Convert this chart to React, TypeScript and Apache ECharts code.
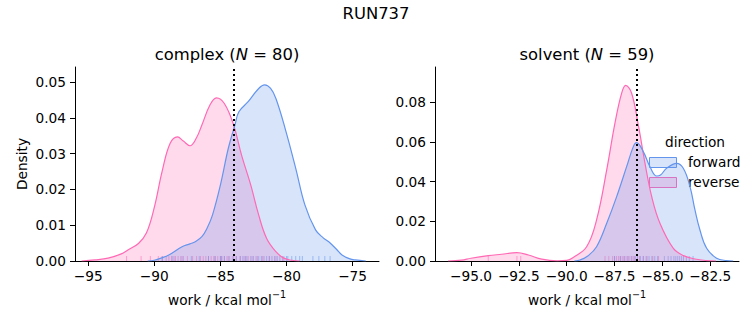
import React, { useEffect, useRef } from "react";
import * as echarts from "echarts";

// ---- KDE curves ----
const complexRevX = [-95.5, -94.5, -93.5, -92.5, -92.0, -91.2, -90.6, -90.0, -89.4, -88.8, -88.25, -87.8, -87.3, -86.8, -86.4, -85.8, -85.3, -84.7, -84.0, -83.4, -82.7, -82.1, -81.5, -80.8, -80.2, -79.6, -79.0];
const complexRevY = [0, 0.0003, 0.0008, 0.002, 0.0031, 0.0049, 0.0078, 0.015, 0.0252, 0.0329, 0.0347, 0.0335, 0.0322, 0.0345, 0.038, 0.0435, 0.0456, 0.044, 0.038, 0.0296, 0.0212, 0.0128, 0.0063, 0.0026, 0.0008, 0.0002, 0];
const complexFwdX = [-90.5, -90.0, -89.5, -88.9, -87.9, -87.3, -86.9, -86.4, -86.0, -85.6, -85.0, -84.4, -83.9, -83.6, -82.9, -82.1, -81.65, -81.2, -80.8, -80.1, -79.3, -78.6, -77.8, -77.2, -76.8, -76.2, -75.8, -75.2, -74.8, -74.0];
const complexFwdY = [0, 0.0002, 0.0008, 0.0017, 0.004, 0.0048, 0.0054, 0.0068, 0.0092, 0.0128, 0.0212, 0.0315, 0.038, 0.0417, 0.0445, 0.0482, 0.0492, 0.0482, 0.0454, 0.037, 0.0259, 0.0156, 0.0087, 0.0064, 0.0054, 0.0032, 0.0017, 0.0006, 0.0003, 0];
const solventRevX = [-96.2, -95.5, -95.0, -94.1, -93.4, -92.6, -92.0, -91.3, -90.5, -90.0, -89.66, -88.96, -88.44, -87.91, -87.48, -87.13, -86.92, -86.61, -86.26, -85.91, -85.56, -85.13, -84.44, -83.9, -83.3, -82.7, -82.2];
const solventRevY = [0, 0.0004, 0.0014, 0.0027, 0.0034, 0.0042, 0.003, 0.0009, 0.0001, 0.0003, 0.0018, 0.0072, 0.0207, 0.0459, 0.0694, 0.0845, 0.0884, 0.0845, 0.0685, 0.0492, 0.0324, 0.019, 0.0065, 0.0027, 0.001, 0.0002, 0];
const solventFwdX = [-89.6, -89.3, -88.9, -88.44, -87.91, -87.39, -86.87, -86.52, -86.35, -86.0, -85.65, -85.3, -85.1, -84.78, -84.26, -83.91, -83.56, -83.3, -83.04, -82.69, -82.17, -81.65, -81.3];
const solventFwdY = [0, 0.0005, 0.0025, 0.0072, 0.019, 0.0324, 0.0475, 0.0576, 0.0596, 0.0551, 0.0475, 0.0428, 0.0433, 0.0467, 0.0492, 0.0467, 0.0375, 0.0257, 0.0156, 0.0064, 0.0014, 0.0002, 0];

// ---- rug samples (work values) ----
const complexRevRug = [-92.1, -91.0, -90.3, -89.7, -89.4, -89.1, -88.9, -88.7, -88.5, -88.4, -88.2, -88.0, -87.8, -87.5, -87.1, -86.8, -86.5, -86.3, -86.1, -85.9, -85.7, -85.5, -85.4, -85.2, -85.0, -84.9, -84.7, -84.5, -84.3, -84.0, -83.8, -83.5, -83.2, -82.9, -82.6, -82.2, -81.8, -81.3, -80.8, -80.3];
const complexFwdRug = [-89.4, -88.6, -87.9, -87.2, -86.6, -85.9, -85.4, -85.0, -84.9, -84.7, -84.4, -84.1, -83.8, -83.5, -83.3, -83.1, -83.0, -82.7, -82.5, -82.3, -82.1, -81.9, -81.7, -81.5, -81.3, -81.1, -80.9, -80.7, -80.5, -80.2, -80.0, -79.9, -79.6, -79.3, -79.0, -78.8, -78.0, -77.55, -77.1, -76.7];
const solventRevRug = [-94.1, -92.6, -92.4, -88.0, -87.8, -87.6, -87.5, -87.4, -87.3, -87.2, -87.1, -87.0, -86.9, -86.8, -86.7, -86.6, -86.5, -86.4, -86.2, -86.0, -85.8, -85.5, -85.2];
const solventFwdRug = [-87.5, -87.2, -87.0, -86.8, -86.6, -86.45, -86.3, -86.15, -86.0, -85.85, -85.7, -85.55, -85.4, -85.25, -84.9, -84.7, -84.55, -84.4, -84.3, -84.2, -84.1, -84.0, -83.9, -83.75, -83.6, -83.4];

// ---- dotted reference lines ----
const complexRef = -84.02;
const solventRef = -86.35;

// ---- ticks ----
const complexXTicks = [-95, -90, -85, -80, -75];
const complexYTicks = [0, 0.01, 0.02, 0.03, 0.04, 0.05];
const solventXTicks = [-95, -92.5, -90, -87.5, -85, -82.5];
const solventYTicks = [0, 0.02, 0.04, 0.06, 0.08];

const BLUE = "#6495ED";
const PINK = "#FF69B4";
const FONT = "DejaVu Sans";
const TICK_FS = 13.7;
const TITLE_FS = 16.4;

const zip = (xs: number[], ys: number[]) => xs.map((x, i) => [x, ys[i]]);
const minus = (s: string) => s.replace("-", "\u2212");

function xAxisOf(gridIndex: number, min: number, max: number, ticks: number[], digits: number) {
  return {
    type: "value",
    gridIndex,
    min,
    max,
    axisLine: { show: true, onZero: false, lineStyle: { color: "#000", width: 1 } },
    axisTick: { show: true, customValues: ticks, length: 5, lineStyle: { color: "#000", width: 1 } },
    axisLabel: {
      customValues: ticks,
      formatter: (v: number) => minus(v.toFixed(digits)),
      color: "#000",
      fontFamily: FONT,
      fontSize: TICK_FS,
      margin: 8,
    },
    splitLine: { show: false },
  };
}

function yAxisOf(gridIndex: number, max: number, ticks: number[]) {
  return {
    type: "value",
    gridIndex,
    min: 0,
    max,
    axisLine: { show: true, lineStyle: { color: "#000", width: 1 } },
    axisTick: { show: true, customValues: ticks, length: 5, lineStyle: { color: "#000", width: 1 } },
    axisLabel: {
      customValues: ticks,
      formatter: (v: number) => v.toFixed(2),
      color: "#000",
      fontFamily: FONT,
      fontSize: TICK_FS,
      margin: 9,
    },
    splitLine: { show: false },
  };
}

function kde(name: string, idx: number, xs: number[], ys: number[], color: string) {
  return {
    name,
    type: "line",
    xAxisIndex: idx,
    yAxisIndex: idx,
    data: zip(xs, ys),
    smooth: 0.4,
    showSymbol: false,
    symbol: "none",
    lineStyle: { color, width: 1.2 },
    areaStyle: { color, opacity: 0.25 },
    silent: true,
  };
}

function rug(idx: number, vals: number[], color: string, refX?: number) {
  const s: any = {
    type: "scatter",
    xAxisIndex: idx,
    yAxisIndex: idx,
    data: vals.map((v) => [v, 0]),
    symbol: "rect",
    symbolSize: [1, 5],
    symbolOffset: [0, -2.5],
    itemStyle: { color, opacity: 0.55 },
    silent: true,
    clip: false,
  };
  if (refX !== undefined) {
    s.markLine = {
      silent: true,
      symbol: ["none", "none"],
      label: { show: false },
      lineStyle: { color: "#000", width: 2, type: [2, 3] },
      data: [{ xAxis: refX }],
      z: 10,
    };
  }
  return s;
}

const titleText = (x: number, y: number, pre: string, post: string) => ({
  type: "text",
  x,
  y,
  style: {
    text: `{a|${pre}}{i|N}{a|${post}}`,
    align: "center",
    verticalAlign: "middle",
    rich: {
      a: { fontFamily: FONT, fontSize: TITLE_FS, fill: "#000" },
      i: { fontFamily: FONT, fontSize: TITLE_FS, fontStyle: "italic", fill: "#000" },
    },
  },
});

const xLabel = (x: number, y: number) => ({
  type: "text",
  x,
  y,
  style: {
    text: "{a|work / kcal mol}{s|\u22121}",
    align: "center",
    verticalAlign: "middle",
    rich: {
      a: { fontFamily: FONT, fontSize: TICK_FS, fill: "#000", lineHeight: 17, verticalAlign: "bottom" },
      s: { fontFamily: FONT, fontSize: 9.6, fill: "#000", lineHeight: 11, verticalAlign: "top" },
    },
  },
});

const plainText = (x: number, y: number, text: string, fs: number, align = "center", rotation = 0) => ({
  type: "text",
  x,
  y,
  rotation,
  style: { text, fontFamily: FONT, fontSize: fs, fill: "#000", align, verticalAlign: "middle" },
});

export default function App() {
  const ref = useRef<HTMLDivElement>(null);
  useEffect(() => {
    if (!ref.current) return;
    const chart = echarts.init(ref.current, undefined, { renderer: "svg" });
    chart.setOption({
      animation: false,
      backgroundColor: "#fff",
      grid: [
        { left: 75, top: 67, width: 304, height: 194 },
        { left: 435, top: 67, width: 304, height: 194 },
      ],
      xAxis: [
        xAxisOf(0, -96, -73, complexXTicks, 0),
        xAxisOf(1, -96.88, -81.0, solventXTicks, 1),
      ],
      yAxis: [yAxisOf(0, 0.0542, complexYTicks), yAxisOf(1, 0.0977, solventYTicks)],
      series: [
        kde("reverse", 0, complexRevX, complexRevY, PINK),
        kde("forward", 0, complexFwdX, complexFwdY, BLUE),
        kde("reverse", 1, solventRevX, solventRevY, PINK),
        kde("forward", 1, solventFwdX, solventFwdY, BLUE),
        rug(0, complexRevRug, PINK),
        rug(0, complexFwdRug, BLUE, complexRef),
        rug(1, solventRevRug, PINK),
        rug(1, solventFwdRug, BLUE, solventRef),
      ],
      graphic: [
        plainText(376, 13, "RUN737", TITLE_FS),
        titleText(227, 54, "complex (", " = 80)"),
        titleText(587, 54, "solvent (", " = 59)"),
        plainText(22, 164, "Density", TICK_FS, "center", Math.PI / 2),
        xLabel(227, 298),
        xLabel(587, 298),
        plainText(695, 142, "direction", TICK_FS),
        {
          type: "rect",
          shape: { x: 649.5, y: 157.5, width: 27, height: 10 },
          style: { fill: "rgba(100,149,237,0.25)", stroke: BLUE, lineWidth: 1 },
        },
        {
          type: "rect",
          shape: { x: 649.5, y: 177.5, width: 27, height: 10 },
          style: { fill: "rgba(255,105,180,0.25)", stroke: PINK, lineWidth: 1 },
        },
        plainText(688, 162, "forward", TICK_FS, "left"),
        plainText(688, 182, "reverse", TICK_FS, "left"),
      ],
    });
    return () => chart.dispose();
  }, []);
  return <div ref={ref} style={{ position: "fixed", left: 0, top: 0, width: 753, height: 325 }} />;
}
